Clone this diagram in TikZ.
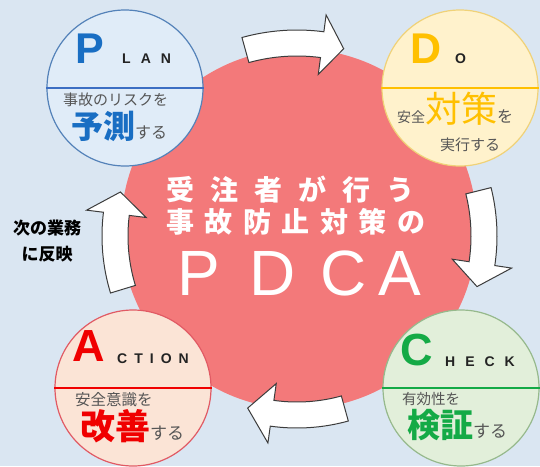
\documentclass[tikz,border=0pt]{standalone}
\usepackage{fontspec}
\setmainfont{Liberation Sans}
\newfontfamily\jp{Noto Sans CJK JP}
\definecolor{bgblue}{RGB}{218,230,242}
\definecolor{redc}{RGB}{243,121,122}
\definecolor{planfill}{RGB}{224,236,248}
\definecolor{planbd}{RGB}{84,130,185}
\definecolor{planline}{RGB}{60,110,195}
\definecolor{pblue}{RGB}{25,110,195}
\definecolor{dofill}{RGB}{255,242,204}
\definecolor{dobd}{RGB}{240,210,120}
\definecolor{dgold}{RGB}{255,192,0}
\definecolor{actfill}{RGB}{251,228,214}
\definecolor{actbd}{RGB}{225,90,100}
\definecolor{ared}{RGB}{240,0,0}
\definecolor{chkfill}{RGB}{226,239,218}
\definecolor{chkbd}{RGB}{150,185,140}
\definecolor{cgreen}{RGB}{20,170,70}
\definecolor{smallgray}{RGB}{85,85,85}
\definecolor{lettergray}{RGB}{35,35,35}
\definecolor{arrowbd}{RGB}{60,60,60}
\begin{document}
\begin{tikzpicture}[x=1pt,y=1pt,
  phase/.style={circle, minimum size=156pt, inner sep=0pt, line width=1.2pt},
  divider/.style={line width=2.5pt},
  txt/.style={inner sep=0pt, anchor=base west},
  big/.style={txt, font=\bfseries\fontsize{43}{43}\selectfont},
  caps/.style={txt, text=lettergray, font=\bfseries\fontsize{14}{14}\selectfont},
  jpt/.style={inner sep=0pt, anchor=west, text=smallgray, font=\jp\fontsize{15}{15}\selectfont},
  centertxt/.style={inner sep=0pt, anchor=west, text=white, font=\jp\bfseries\fontsize{28}{28}\selectfont},
  pdca/.style={inner sep=0pt, anchor=base, text=white, font=\fontsize{64}{64}\selectfont},
  blockarrow/.style={draw=arrowbd, line width=1pt, fill=white, shift={(297,-236)}},
  note/.style={inner sep=0pt, text=black, font=\jp\bfseries\fontsize{17}{17}\selectfont}
]
\useasboundingbox (0,0) rectangle (540,-466);
\fill[bgblue] (0,0) rectangle (540,-466);
\begin{scope}
\clip (0,0) rectangle (540,-466);
% central disc
\fill[redc] (299,-229) ellipse[x radius=178, y radius=180];
% arrows
\draw[blockarrow] (105.5:206pt) arc[start angle=105.5, end angle=82.5, radius=206pt] -- (82.5:223pt) -- (76:193pt) -- (82.5:163pt) -- (82.5:180pt) arc[start angle=82.5, end angle=105.5, radius=180pt] -- cycle;
\draw[blockarrow] (14:200pt) arc[start angle=14, end angle=-8.5, radius=200pt] -- (-8.5:217pt) -- (-15.7:187pt) -- (-8.5:157pt) -- (-8.5:174pt) arc[start angle=-8.5, end angle=14, radius=174pt] -- cycle;
\draw[blockarrow] (-74.5:192pt) arc[start angle=-74.5, end angle=-98, radius=192pt] -- (-98:209pt) -- (-106:179pt) -- (-98:149pt) -- (-98:166pt) arc[start angle=-98, end angle=-74.5, radius=166pt] -- cycle;
\draw[blockarrow] (197:195pt) arc[start angle=197, end angle=173, radius=195pt] -- (173:212pt) -- (166:182pt) -- (173:152pt) -- (173:169pt) arc[start angle=173, end angle=197, radius=169pt] -- cycle;
% phase circles
\node[phase, draw=planbd, fill=planfill] (plan) at (125,-88) {};
\draw[divider, planline] (plan.west) -- (plan.east);
\node[phase, draw=dobd, fill=dofill] (do) at (460,-88) {};
\draw[divider, dgold] (do.west) -- (do.east);
\node[phase, draw=actbd, fill=actfill] (act) at (133,-388) {};
\draw[divider, ared] (act.west) -- (act.east);
\node[phase, draw=chkbd, fill=chkfill] (chk) at (461,-388) {};
\draw[divider, cgreen] (chk.west) -- (chk.east);
\end{scope}
% PLAN
\node[big, text=pblue] (pP) at (75,-63) {P};
\node[caps] (pLAN) at (122,-63) {L\hspace{10pt}A\hspace{10pt}N};
\node[jpt] (pl1) at (63,-100) {事故のリスクを};
\node[txt] (pl2) at (71,-138) {{\jp\bfseries\fontsize{32}{32}\selectfont\color{pblue}予測}{\jp\fontsize{16}{16}\selectfont\color{smallgray}する}};
% DO
\node[big, text=dgold] (dD) at (410,-63) {D};
\node[caps] (dO) at (455,-63) {O};
\node[txt] (dl1) at (397,-122) {{\jp\fontsize{14}{14}\selectfont\color{smallgray}安全}{\jp\fontsize{36}{36}\selectfont\color{dgold}対策}{\jp\fontsize{16}{16}\selectfont\color{smallgray}を}};
\node[jpt] (dl2) at (440,-145) {実行する};
% ACTION
\node[big, text=ared, font=\bfseries\fontsize{45}{45}\selectfont] (aA) at (72,-361) {A};
\node[caps] (aCTION) at (117,-363) {C\hspace{7pt}T\hspace{7pt}I\hspace{7pt}O\hspace{7pt}N};
\node[jpt, font=\jp\fontsize{15.5}{15.5}\selectfont] (al1) at (75,-400) {安全意識を};
\node[txt] (al2) at (80,-439) {{\jp\bfseries\fontsize{35}{35}\selectfont\color{ared}改善}{\jp\fontsize{17}{17}\selectfont\color{smallgray}する}};
% CHECK
\node[big, text=cgreen, font=\bfseries\fontsize{45}{45}\selectfont] (cC) at (400,-365) {C};
\node[caps] (cHECK) at (445,-366) {H\hspace{10pt}E\hspace{10pt}C\hspace{10pt}K};
\node[jpt, font=\jp\fontsize{14.5}{14.5}\selectfont] (cl1) at (402,-399) {有効性を};
\node[txt] (cl2) at (407,-437) {{\jp\bfseries\fontsize{33}{33}\selectfont\color{cgreen}検証}{\jp\fontsize{17}{17}\selectfont\color{smallgray}する}};
% centre text
\node[centertxt] (t1) at (166,-190) {受\hspace{16pt}注\hspace{16pt}者\hspace{16pt}が\hspace{16pt}行\hspace{16pt}う};
\node[centertxt] (t2) at (166,-222) {事\hspace{10.5pt}故\hspace{10.5pt}防\hspace{10.5pt}止\hspace{10.5pt}対\hspace{10.5pt}策\hspace{10.5pt}の};
\node[pdca] (lP) at (199,-295) {P};
\node[pdca] (lD) at (273,-295) {D};
\node[pdca] (lC) at (344,-295) {C};
\node[pdca] (lA) at (400,-295) {A};
% side note
\node[note] (n1) at (47,-228) {次の業務};
\node[note] (n2) at (47,-254) {に反映};
\end{tikzpicture}
\end{document}
